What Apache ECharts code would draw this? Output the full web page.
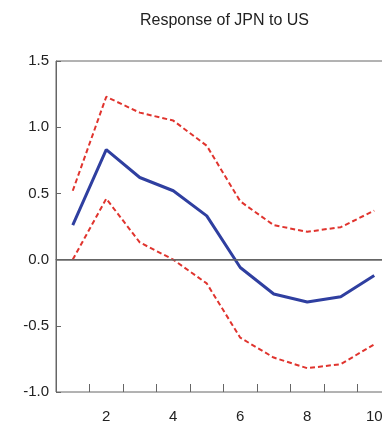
<!DOCTYPE html>
<html><head><meta charset="utf-8">
<script src="https://cdn.jsdelivr.net/npm/echarts@6/dist/echarts.min.js"></script>
<style>html,body{margin:0;padding:0;background:#fff}#c{width:382px;height:427px}</style>
</head><body><div id="c"></div>
<script>
const horizons = [1,2,3,4,5,6,7,8,9,10];
const response = [0.26,0.83,0.62,0.52,0.33,-0.06,-0.26,-0.32,-0.28,-0.12];
const upperBand = [0.52,1.23,1.11,1.05,0.86,0.44,0.26,0.21,0.245,0.37];
const lowerBand = [0.0,0.46,0.13,0.0,-0.18,-0.59,-0.74,-0.82,-0.79,-0.64];
const yTicks = [-1.0,-0.5,0.0,0.5,1.0,1.5];
const xLabels = [2,4,6,8,10];

const pair = (arr) => horizons.map((h,i)=>[h,arr[i]]);
const chart = echarts.init(document.getElementById('c'));
const font = 'Liberation Sans, Arial, sans-serif';
chart.setOption({
  animation:false,
  title:{text:'Response of JPN to US',left:140,top:13,padding:0,
    textStyle:{fontFamily:font,fontSize:16,fontWeight:'normal',color:'#222'}},
  grid:{left:56,top:61,width:335,bottom:35,outerBoundsMode:'none',containLabel:false,
    show:true,borderColor:'#666',borderWidth:1},
  xAxis:[{type:'value',min:0.5,max:10.5,interval:0.5,position:'bottom',
    axisLine:{show:true,lineStyle:{color:'#666'}},axisTick:{show:false},splitLine:{show:false},
    axisLabel:{margin:17,color:'#222',fontFamily:font,fontSize:15,
      formatter:v=>xLabels.indexOf(v)>=0?String(v):''}},
   {type:'value',min:0.5,max:10.5,interval:1,position:'bottom',
    axisLine:{show:false},axisLabel:{show:false},splitLine:{show:false},
    axisTick:{show:true,inside:true,length:8,lineStyle:{color:'#666'}}}],
  yAxis:{type:'value',min:-1,max:1.5,interval:0.5,
    axisLine:{show:true,lineStyle:{color:'#666'}},splitLine:{show:false},
    axisTick:{show:true,inside:true,length:5,lineStyle:{color:'#666'}},
    axisLabel:{margin:7,color:'#222',fontFamily:font,fontSize:15,
      formatter:v=>yTicks.indexOf(v)>=0?v.toFixed(1):''}},
  series:[
    {type:'line',data:pair(upperBand),symbol:'none',lineStyle:{color:'#e0342e',width:2,type:[5,3]},z:3},
    {type:'line',data:pair(lowerBand),symbol:'none',lineStyle:{color:'#e0342e',width:2,type:[5,3]},z:3},
    {type:'line',data:pair(response),symbol:'none',lineStyle:{color:'#2f3fa0',width:3},z:4,
      markLine:{silent:true,symbol:'none',label:{show:false},lineStyle:{color:'#666',width:1.5,type:'solid'},data:[{yAxis:0}]}}
  ]
});
</script></body></html>
